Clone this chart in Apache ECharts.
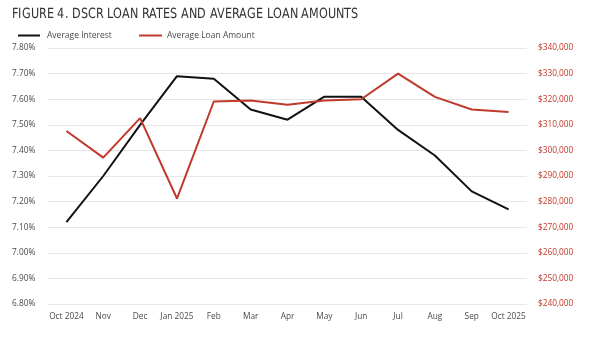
<!DOCTYPE html>
<html><head><meta charset="utf-8">
<script src="https://cdn.jsdelivr.net/npm/echarts@6/dist/echarts.min.js"></script>
<style>
@font-face{font-family:'TitleCond';src:local('DejaVu Sans Condensed'),local('DejaVuSansCondensed'),local('Liberation Sans Narrow'),local('LiberationSansNarrow-Regular');}
html,body{margin:0;padding:0;background:#fff}#c{width:595px;height:342px}</style>
</head><body><div id="c"></div>
<script>
const categories = ['Oct 2024','Nov','Dec','Jan 2025','Feb','Mar','Apr','May','Jun','Jul','Aug','Sep','Oct 2025'];
const averageInterest = [7.12, 7.30, 7.50, 7.69, 7.68, 7.56, 7.52, 7.61, 7.61, 7.48, 7.38, 7.24, 7.17];
const averageLoanAmount = [307600, 297200, 312600, 281200, 319100, 319500, 317800, 319500, 320000, 330000, 320900, 316000, 315000];
const titleText = 'FIGURE 4. DSCR LOAN RATES AND AVERAGE LOAN AMOUNTS';

function draw(){
const chart = echarts.init(document.getElementById('c'), null, {renderer:'canvas'});
const gray = '#4a4a4a';
const red = '#c0392b';
const tickFont = {fontFamily:'Open Sans', fontSize:8.3, color:gray};
chart.setOption({
  animation:false,
  graphic:[{type:'text', x:12, y:7, scaleX:0.89, scaleY:1,
    style:{text:titleText, fontFamily:'TitleCond, sans-serif', fontSize:13.5, fill:'#333', textVerticalAlign:'top', textAlign:'left'}}],
  legend:[
    {data:['Average Interest'], left:13, top:26, icon:'rect', itemWidth:22, itemHeight:2, itemGap:0,
     textStyle:{fontFamily:'Open Sans', fontSize:8.5, color:gray, padding:[0,0,0,2]}},
    {data:['Average Loan Amount'], left:134, top:26, icon:'rect', itemWidth:23, itemHeight:2, itemGap:0,
     textStyle:{fontFamily:'Open Sans', fontSize:8.5, color:gray, padding:[0,0,0,0]}}
  ],
  grid:{left:48, right:68, top:48, bottom:38},
  xAxis:{type:'category', data:categories, boundaryGap:true,
    axisLine:{show:false}, axisTick:{show:false},
    axisLabel:{...tickFont, margin:9, interval:0}},
  yAxis:[
    {type:'value', min:6.8, max:7.8, interval:0.1, position:'left',
     axisLine:{show:false}, axisTick:{show:false},
     splitLine:{lineStyle:{color:'#e6e6e6', width:1}},
     axisLabel:{...tickFont, align:'left', margin:36, formatter:v=>v.toFixed(2)+'%'}},
    {type:'value', min:240000, max:340000, interval:10000, position:'right',
     axisLine:{show:false}, axisTick:{show:false}, splitLine:{show:false},
     axisLabel:{...tickFont, color:red, margin:11, formatter:v=>'$'+v.toLocaleString('en-US')}}
  ],
  series:[
    {name:'Average Interest', type:'line', data:averageInterest, yAxisIndex:0, symbol:'none',
     lineStyle:{color:'#111', width:2}, itemStyle:{color:'#111'}, z:2},
    {name:'Average Loan Amount', type:'line', data:averageLoanAmount, yAxisIndex:1, symbol:'none',
     lineStyle:{color:red, width:2}, itemStyle:{color:red}, z:3}
  ]
});
}
if (document.fonts && document.fonts.load) {
  document.fonts.load('14px TitleCond').then(draw, draw);
} else { draw(); }
</script></body></html>
